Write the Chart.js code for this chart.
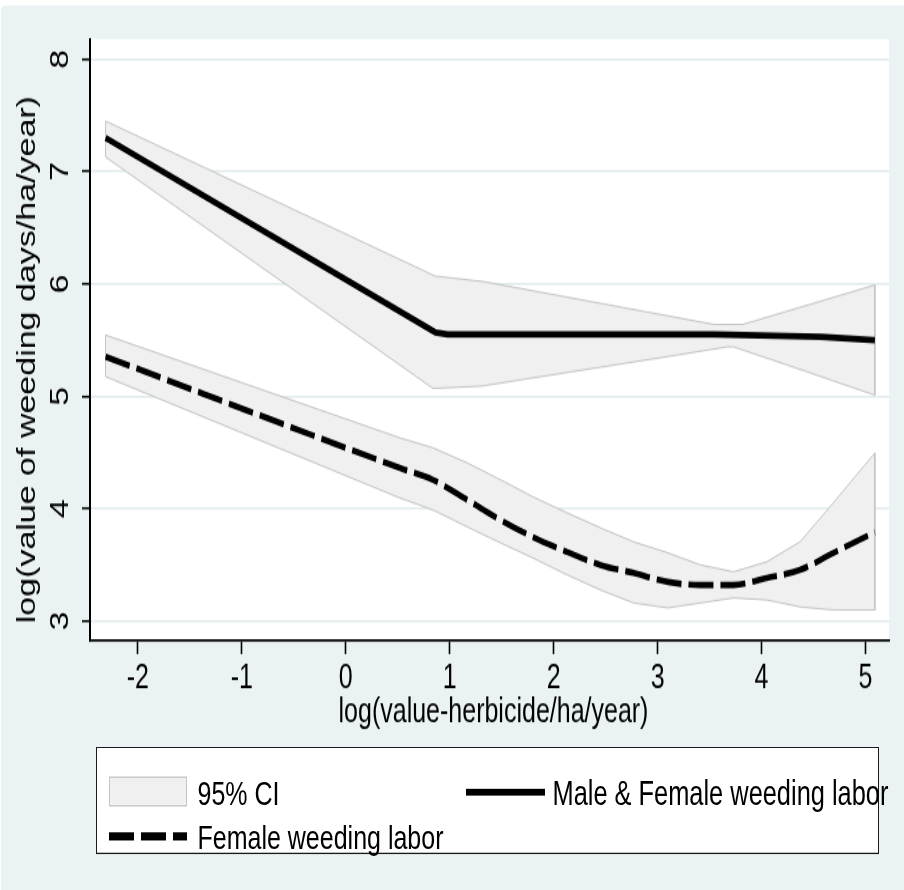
<!DOCTYPE html>
<html>
<head>
<meta charset="utf-8">
<script src="https://cdn.jsdelivr.net/npm/chart.js@4.4.1/dist/chart.umd.min.js"></script>
<style>
html,body{margin:0;padding:0;background:#fff;width:904px;height:890px;overflow:hidden;font-family:"Liberation Sans",Arial,sans-serif;}
#stage{position:absolute;left:0;top:0;width:904px;height:655px;transform:scaleY(1.36);transform-origin:0 0;}
#panel{position:absolute;left:1px;right:0;top:3.7px;bottom:0;background:#eaf2f3;border-top-left-radius:4px;}
#chart{position:absolute;left:0;top:0;}
#legend{position:absolute;left:96px;top:549px;width:783px;height:79.2px;box-sizing:border-box;border:1.5px solid #1a1a1a;background:#fff;}
.lg{position:absolute;font-size:25px;line-height:25px;color:#000;white-space:nowrap;}
.sw{position:absolute;}
</style>
</head>
<body>
<div id="stage">
  <div id="panel"></div>
  <canvas id="chart" width="904" height="655"></canvas>
  <div id="legend">
    <div class="sw" style="left:11.5px;top:20.6px;width:78.7px;height:22.8px;box-sizing:border-box;background:#f0f0f0;border:1px solid #c6c6c6;"></div>
    <div class="lg" style="left:100.5px;top:20.7px;">95% CI</div>
    <div class="sw" style="left:368.5px;top:29.85px;width:79px;height:5.5px;background:#000;"></div>
    <div class="lg" style="left:455.5px;top:20.7px;font-size:25.4px;">Male &amp; Female weeding labor</div>
    <div class="sw" style="left:11.5px;top:62.4px;width:78px;height:5.6px;background:repeating-linear-gradient(to right,#000 0px,#000 25px,transparent 25px,transparent 32px);"></div>
    <div class="lg" style="left:100.5px;top:53.3px;">Female weeding labor</div>
  </div>
</div>
<script>
// ---- data ----
const xTickValues = [-2, -1, 0, 1, 2, 3, 4, 5];
const yTickValues = [3, 4, 5, 6, 7, 8];
const xTitle = 'log(value-herbicide/ha/year)';
const yTitle = 'log(value of weeding days/ha/year)';

const maleFitX = [-2.31, 0.86, 0.98, 3.54, 4.57, 5.09];
const maleFitY = [7.30, 5.57, 5.55, 5.55, 5.53, 5.50];
const maleUpperX = [-2.31, 0.86, 1.33, 3.54, 3.82, 5.09];
const maleUpperY = [7.45, 6.07, 6.02, 5.64, 5.64, 5.99];
const maleLowerX = [-2.31, 0.84, 1.30, 3.21, 3.67, 3.73, 4.37, 5.09];
const maleLowerY = [7.13, 5.07, 5.09, 5.37, 5.44, 5.44, 5.24, 5.01];

const femaleX = [-2.31, 0.52, 0.84, 1.17, 1.49, 1.80, 2.13, 2.45, 2.77, 3.10, 3.41, 3.73, 4.05, 4.37, 4.69, 5.09];
const femaleFitY = [5.353, 4.362, 4.255, 4.077, 3.899, 3.747, 3.614, 3.498, 3.427, 3.347, 3.320, 3.320, 3.383, 3.454, 3.605, 3.79];
const femaleUpperY = [5.545, 4.630, 4.541, 4.407, 4.256, 4.105, 3.962, 3.829, 3.704, 3.606, 3.499, 3.437, 3.526, 3.704, 4.051, 4.496];
const femaleLowerY = [5.175, 4.095, 3.988, 3.837, 3.695, 3.561, 3.410, 3.276, 3.160, 3.116, 3.160, 3.205, 3.187, 3.125, 3.098, 3.098];

const seriesLabels = ['Male & Female weeding labor', 'Female weeding labor', '95% CI'];

// ---- helpers ----
const toPts = (xs, ys) => xs.map((x, i) => ({x: x, y: ys[i]}));
const band = (ux, uy, lx, ly) => {
  const pts = toPts(ux, uy).concat(toPts(lx, ly).reverse());
  pts.push(pts[0]);
  return pts;
};

const FONT = '"Liberation Sans", Arial, sans-serif';
Chart.defaults.font.family = FONT;
Chart.defaults.color = '#000';

const textPlugin = {
  id: 'stataText',
  beforeDraw(chart) {
    const {ctx, chartArea: a} = chart;
    ctx.save();
    ctx.fillStyle = '#fff';
    ctx.fillRect(a.left - 1, a.top, a.right - a.left + 1, a.bottom - a.top);
    ctx.restore();
  },
  afterDraw(chart) {
    const {ctx} = chart;
    const ys = chart.scales.y;
    ctx.save();
    ctx.fillStyle = '#000';
    ctx.font = '25px ' + FONT;
    ys.ticks.forEach(t => {
      const py = ys.getPixelForValue(t.value);
      ctx.save();
      ctx.translate(68, py);
      ctx.rotate(-Math.PI / 2);
      ctx.textAlign = 'center';
      ctx.textBaseline = 'alphabetic';
      ctx.fillText(t.label, 0, 0);
      ctx.restore();
    });
    // y title
    ctx.save();
    ctx.translate(35, 458.3);
    ctx.rotate(-Math.PI / 2);
    ctx.textAlign = 'left';
    ctx.textBaseline = 'alphabetic';
    ctx.fillText(yTitle, 0, 0);
    ctx.restore();
    // x title
    ctx.textAlign = 'center';
    ctx.textBaseline = 'alphabetic';
    ctx.fillText(xTitle, 493.5, 530.7);
    ctx.restore();
  }
};

new Chart(document.getElementById('chart'), {
  type: 'line',
  data: {
    datasets: [
      {
        label: seriesLabels[0],
        data: toPts(maleFitX, maleFitY),
        borderColor: '#000', borderWidth: 4.8, pointRadius: 0, fill: false,
        borderJoinStyle: 'round', borderCapStyle: 'butt', tension: 0, order: 0
      },
      {
        label: seriesLabels[1],
        data: toPts(femaleX, femaleFitY),
        borderColor: '#000', borderWidth: 4.6, borderDash: [25, 7], pointRadius: 0, fill: false,
        borderJoinStyle: 'round', borderCapStyle: 'butt', cubicInterpolationMode: 'monotone', order: 1
      },
      {
        label: seriesLabels[2],
        data: band(maleUpperX, maleUpperY, maleLowerX, maleLowerY),
        borderColor: '#c4c4c4', borderWidth: 1, backgroundColor: '#f0f0f0',
        pointRadius: 0, fill: 'shape', tension: 0, order: 5
      },
      {
        label: seriesLabels[2],
        data: band(femaleX, femaleUpperY, femaleX, femaleLowerY),
        borderColor: '#c4c4c4', borderWidth: 1, backgroundColor: '#f0f0f0',
        pointRadius: 0, fill: 'shape', tension: 0, order: 5
      }
    ]
  },
  options: {
    responsive: false,
    animation: false,
    events: [],
    devicePixelRatio: 1,
    layout: {padding: {left: 0, top: 28.7, right: 15, bottom: 113.9}},
    plugins: {legend: {display: false}, tooltip: {enabled: false}},
    scales: {
      x: {
        type: 'linear',
        min: -2.46, max: 5.226,
        afterFit(s) { s.height = 70; },
        afterBuildTicks(s) { s.ticks = xTickValues.map(v => ({value: v})); },
        border: {display: true, color: '#000', width: 1.8},
        grid: {display: true, drawOnChartArea: false, drawTicks: true, tickLength: 9.8, tickColor: '#000', tickWidth: 1.6},
        ticks: {color: '#000', font: {size: 25}, padding: 3.7, maxRotation: 0, autoSkip: false, includeBounds: false}
      },
      y: {
        type: 'linear',
        min: 2.824, max: 8.18,
        afterFit(s) { s.width = 90; },
        afterBuildTicks(s) { s.ticks = yTickValues.map(v => ({value: v})); },
        border: {display: true, color: '#000', width: 2},
        grid: {display: true, drawOnChartArea: true, color: '#e1ebee', lineWidth: 1.4, drawTicks: true, tickLength: 8, tickColor: '#000', tickWidth: 1.6},
        ticks: {color: 'rgba(0,0,0,0)', font: {size: 25}, includeBounds: false}
      }
    }
  },
  plugins: [textPlugin]
});
</script>
</body>
</html>
